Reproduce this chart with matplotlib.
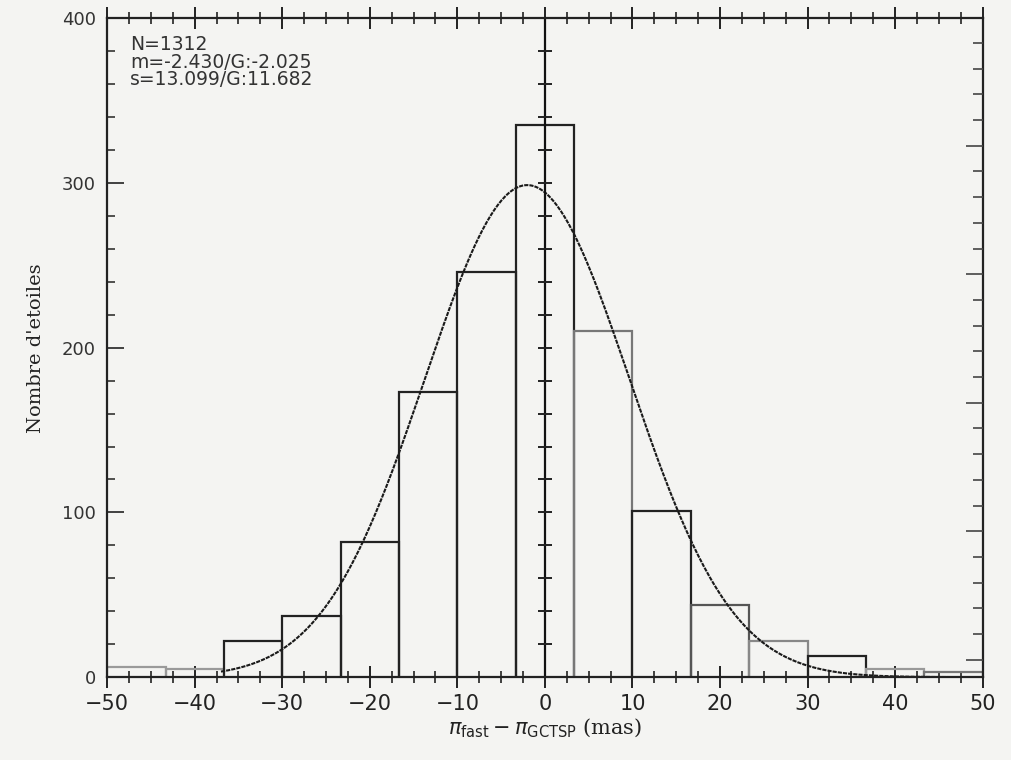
import numpy as np
import matplotlib
matplotlib.use('Agg')
import matplotlib.pyplot as plt
from matplotlib.ticker import MultipleLocator, FixedLocator

# histogram of parallax differences (bin edges from -50 to 50 mas)
bin_edges = np.linspace(-50, 50, 16)
counts = [6, 5, 22, 37, 82, 173, 246, 335, 210, 101, 44, 22, 13, 5, 3]
bar_shade = ['#9a9a9a', '#9a9a9a', '#222222', '#222222', '#222222', '#222222',
             '#222222', '#222222', '#777777', '#222222', '#555555', '#888888',
             '#222222', '#999999', '#777777']

# fit parameters written in the plot
n_stars = 1312
mean_fit = -2.025
sigma_fit = 11.682
info = ['N=1312', 'm=-2.430/G:-2.025', 's=13.099/G:11.682']

bg = '#f4f4f2'
fig = plt.figure(figsize=(10.11, 7.60), dpi=100, facecolor=bg)
ax = fig.add_axes([0.106, 0.109, 0.866, 0.867], facecolor=bg)

# histogram outline, one bin at a time
for i, c in enumerate(counts):
    x0, x1 = bin_edges[i], bin_edges[i + 1]
    ax.plot([x0, x0, x1, x1], [0, c, c, 0], color=bar_shade[i], lw=1.6,
            solid_joinstyle='miter')

# gaussian fit scaled to the histogram
width = bin_edges[1] - bin_edges[0]
xs = np.linspace(-37, 50, 400)
ys = n_stars * width / (sigma_fit * np.sqrt(2 * np.pi)) * \
    np.exp(-0.5 * ((xs - mean_fit) / sigma_fit) ** 2)
ax.plot(xs, ys, color='#1a1a1a', lw=1.5, ls=(0, (2.0, 0.5)))

# central axis at x = 0 with its own ticks
ax.axvline(0, color='#111111', lw=1.6)
cy = np.arange(20, 400, 20)
ax.plot(np.zeros_like(cy), cy, ls='none', marker='_', ms=10, mew=1.4,
        color='#222222')

ax.set_xlim(-50, 50)
ax.set_ylim(0, 400)

ax.xaxis.set_major_locator(MultipleLocator(10))
ax.xaxis.set_minor_locator(MultipleLocator(2.5))
ax.yaxis.set_major_locator(MultipleLocator(100))
ax.yaxis.set_minor_locator(MultipleLocator(20))
ax.tick_params(axis='x', which='major', direction='inout', length=16, width=1.4,
               top=True, labelsize=15, colors='#222222', pad=4)
ax.tick_params(axis='x', which='minor', direction='inout', length=9, width=1.2,
               top=True, colors='#222222')
ax.tick_params(axis='y', which='major', direction='in', length=12, width=1.3,
               right=False, labelsize=13, colors='#333333', pad=8)
ax.tick_params(axis='y', which='minor', direction='in', length=6, width=1.2,
               right=False, colors='#333333')
for s in ax.spines.values():
    s.set_linewidth(1.6)
    s.set_color('#222222')

# right axis carries a differently scaled set of ticks
ax2 = ax.twinx()
ax2.set_ylim(0, 400)
ax2.yaxis.set_major_locator(FixedLocator(np.arange(10.6, 400, 78.0)))
ax2.yaxis.set_minor_locator(FixedLocator(np.arange(10.6, 400, 15.6)))
ax2.tick_params(axis='y', which='major', direction='in', length=12, width=1.2,
                labelright=False, colors='#444444')
ax2.tick_params(axis='y', which='minor', direction='in', length=7, width=1.2,
                colors='#444444')
for s in ax2.spines.values():
    s.set_visible(False)

ax.set_xlabel(r'$\pi_{\rm fast} - \pi_{\rm GCTSP}$ (mas)', fontsize=15,
              family='DejaVu Serif', color='#222222', labelpad=2)
ax.set_ylabel("Nombre d'etoiles", fontsize=14, family='DejaVu Serif',
              color='#222222', labelpad=12)

ax.text(0.026, 0.974, '\n'.join(info), transform=ax.transAxes, va='top',
        ha='left', fontsize=13.5, color='#333333', linespacing=0.9)

fig.savefig('out.png', dpi=100, facecolor=bg)
